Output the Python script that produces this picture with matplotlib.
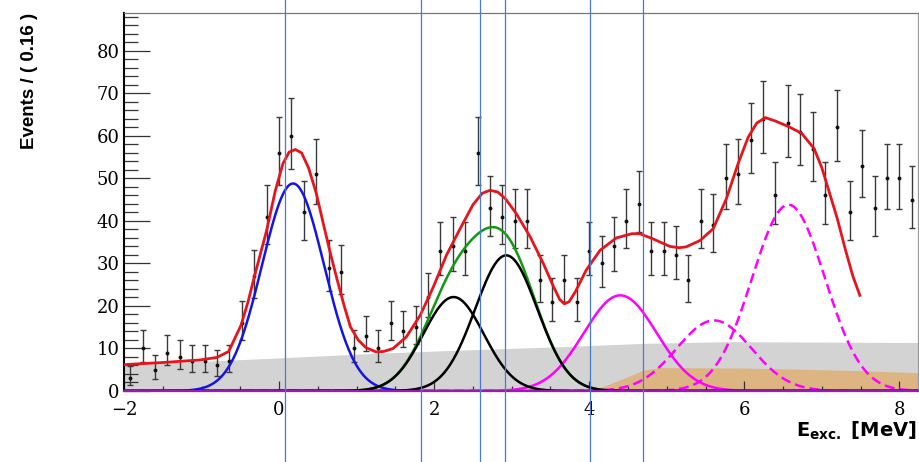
import numpy as np
import matplotlib
matplotlib.use("Agg")
import matplotlib.pyplot as plt
from matplotlib.transforms import blended_transform_factory

# --- data --------------------------------------------------------------
# histogram: bins of 0.16 MeV starting at -2 MeV
bin_start = -2.0
bin_width = 0.16
counts = [3, 10, 5, 9, 8, 7, 7, 6, 7, 16,
          27, 41, 56, 60, 42, 51, 29, 28, 10, 13,
          10, 16, 14, 15, 22, 33, 34, 33, 56, 43,
          41, 40, 40, 26, 21, 26, 21, 33, 30, 34,
          40, 44, 33, 33, 32, 26, 40, 39, 50, 51,
          59, 64, 46, 63, 61, 57, 46, 62, 42, 53,
          43, 50, 50, 45]
err_lo = [1.6, 3.1, 2.2, 2.9, 2.8, 2.6, 2.6, 2.4, 2.6, 4.0,
          5.2, 6.4, 7.5, 7.7, 6.5, 7.1, 5.4, 5.3, 3.1, 3.6,
          3.1, 4.0, 3.7, 3.9, 4.7, 5.7, 5.8, 5.7, 7.5, 6.5,
          6.4, 6.3, 6.3, 5.1, 4.6, 5.1, 4.6, 5.7, 5.5, 5.8,
          6.3, 6.6, 5.7, 5.7, 5.6, 5.1, 6.3, 6.2, 7.1, 7.1,
          7.7, 8.0, 6.8, 7.9, 7.8, 7.5, 6.8, 7.9, 6.5, 7.3,
          6.5, 7.1, 7.1, 6.7]
err_hi = [2.9, 4.3, 3.4, 4.1, 4.0, 3.8, 3.8, 3.6, 3.8, 5.1,
          6.2, 7.4, 8.5, 8.8, 7.5, 8.2, 6.4, 6.3, 4.3, 4.7,
          4.3, 5.1, 4.8, 5.0, 5.7, 6.8, 6.9, 6.8, 8.5, 7.6,
          7.4, 7.4, 7.4, 6.1, 5.6, 6.1, 5.6, 6.8, 6.5, 6.9,
          7.4, 7.7, 6.8, 6.8, 6.7, 6.1, 7.4, 7.3, 8.1, 8.2,
          8.7, 9.0, 7.8, 9.0, 8.9, 8.6, 7.8, 8.9, 7.5, 8.3,
          7.6, 8.1, 8.1, 7.8]

# total fit (red)
fit_x = [-2.00, -1.50, -1.02, -0.80, -0.65, -0.49, -0.40, -0.31, -0.16, -0.05,
         0.05, 0.13, 0.21, 0.29, 0.38, 0.48, 0.57, 0.66, 0.75, 0.84,
         0.92, 1.02, 1.12, 1.25, 1.35, 1.47, 1.64, 1.82, 1.99, 2.16,
         2.33, 2.50, 2.62, 2.72, 2.82, 2.92, 3.06, 3.24, 3.41, 3.54,
         3.62, 3.68, 3.74, 3.82, 3.96, 4.14, 4.35, 4.55, 4.65, 4.82,
         5.04, 5.16, 5.25, 5.43, 5.60, 5.77, 5.92, 6.05, 6.16, 6.27,
         6.40, 6.58, 6.74, 6.90, 7.00, 7.10, 7.20, 7.30, 7.40, 7.49]
fit_y = [6.2, 6.7, 7.3, 7.9, 9.3, 15.5, 21.0, 27.5, 37.8, 47.0,
         53.5, 56.2, 56.8, 56.0, 52.5, 46.5, 39.4, 32.5, 26.1, 20.0,
         15.1, 12.0, 10.2, 9.2, 9.3, 10.0, 12.7, 17.8, 24.5, 32.0,
         38.0, 43.8, 46.5, 47.2, 46.8, 45.2, 41.7, 36.2, 29.9, 24.5,
         21.5, 20.5, 21.0, 23.3, 28.4, 33.1, 36.0, 37.0, 37.0, 35.8,
         34.0, 33.7, 33.9, 35.4, 38.2, 45.3, 53.5, 59.7, 63.0, 64.3,
         63.5, 62.1, 60.6, 57.0, 52.5, 46.5, 40.5, 33.5, 27.0, 22.5]

# backgrounds (grey and orange bands)
bkg_grey_x = [-2.0, -0.7, 1.3, 2.3, 3.6, 4.7, 5.8, 8.24]
bkg_grey_y = [6.3, 7.2, 8.9, 9.6, 10.4, 11.2, 11.6, 11.4]
bkg_orange_x = [4.0, 4.2, 4.45, 4.7, 4.9, 6.0, 7.5, 8.24]
bkg_orange_y = [0.0, 1.2, 3.0, 4.9, 5.5, 5.4, 4.8, 4.3]

# gaussian peak components: mean, sigma, amplitude
blue_peak = [0.18, 0.40, 48.8]
black_peak1 = [2.25, 0.39, 22.1]
black_peak2 = [2.93, 0.40, 31.9]
magenta_peak = [4.40, 0.47, 22.5]
dashed_peak1 = [5.61, 0.48, 16.6]
dashed_peak2 = [6.57, 0.47, 43.8]

# blue guide lines
guide_lines = [0.07, 1.83, 2.59, 2.92, 4.01, 4.69]


def gauss(x, pars):
    mean, sigma, amp = pars
    return amp * np.exp(-0.5 * ((x - mean) / sigma) ** 2)


fig = plt.figure(figsize=(9.2, 4.62), dpi=100)
ax = fig.add_axes([124 / 920, 1 - 391 / 462, 794 / 920, 378 / 462])

x = np.linspace(-2.0, 8.24, 800)
centers = bin_start + bin_width * (np.arange(len(counts)) + 0.5)

# background bands
ax.fill_between(bkg_grey_x, bkg_grey_y, color="#d3d3d3", lw=0, zorder=1)
ax.fill_between(bkg_orange_x, bkg_orange_y, color="#dcb582", lw=0, zorder=1.5)

# data points
ax.errorbar(centers, counts, yerr=[err_lo, err_hi], fmt="o", ms=1.8,
            color="#111111", ecolor="#3a3a3a", elinewidth=1.0,
            capsize=2.4, capthick=1.0, zorder=3)

# peak components
lw = 1.8
ax.plot(x, gauss(x, blue_peak), color="#1414e6", lw=lw, zorder=4)
ax.plot(x, gauss(x, black_peak1) + gauss(x, black_peak2), color="#109a10", lw=lw, zorder=4)
ax.plot(x, gauss(x, black_peak1), color="black", lw=lw, zorder=4.5)
ax.plot(x, gauss(x, black_peak2), color="black", lw=lw, zorder=4.5)
ax.plot(x, gauss(x, magenta_peak), color="#ff00ff", lw=lw, zorder=4)
ax.plot(x, gauss(x, dashed_peak1), color="#ff00ff", lw=lw, ls=(0, (4, 2)), zorder=4)
ax.plot(x, gauss(x, dashed_peak2), color="#ff00ff", lw=lw, ls=(0, (4, 2)), zorder=4)

# total fit
ax.plot(fit_x, fit_y, color="#e8141c", lw=2.0, zorder=5, solid_joinstyle="round")

ax.set_xlim(-2.0, 8.24)
ax.set_ylim(0, 88.9)

ax.set_xticks([-2, 0, 2, 4, 6, 8])
ax.set_xticks(np.arange(-2, 8.5, 0.5), minor=True)
ax.set_yticks([0, 10, 20, 30, 40, 50, 60, 70, 80])
ax.set_yticks(np.arange(0, 89, 2), minor=True)

ax.tick_params(axis="y", which="major", direction="in", length=19, width=0.9,
               color="#333333", labelsize=13, pad=3, right=False)
ax.tick_params(axis="y", which="minor", direction="in", length=10, width=0.9,
               color="#333333", right=False)
ax.tick_params(axis="x", which="major", direction="in", length=7, width=0.9,
               color="#333333", labelsize=13, pad=7, top=False)
ax.tick_params(axis="x", which="minor", direction="in", length=3.5, width=0.9,
               color="#333333", top=False)
for lbl in ax.get_xticklabels() + ax.get_yticklabels():
    lbl.set_family("DejaVu Serif")

ax.spines["left"].set_color("black")
ax.spines["left"].set_linewidth(1.5)
ax.spines["top"].set_color("#777777")
ax.spines["top"].set_linewidth(0.9)
ax.spines["right"].set_color("#999999")
ax.spines["right"].set_linewidth(0.9)
ax.spines["bottom"].set_color("#9b19b5")
ax.spines["bottom"].set_linewidth(1.6)
ax.spines["bottom"].set_zorder(6)

# axis titles
fig.text(29.5 / 920, 1 - 13 / 462, "Events / ( 0.16 )", rotation=90,
         ha="center", va="top", fontsize=13.5, fontweight="bold",
         family="Liberation Sans")
fig.text(917 / 920, 1 - 437 / 462, r"E$_{\mathbf{exc.}}$ [MeV]", ha="right",
         va="baseline", fontsize=14, fontweight="bold", family="DejaVu Sans")

# vertical guide lines over the whole picture
trans = blended_transform_factory(ax.transData, fig.transFigure)
for gx in guide_lines:
    ax.plot([gx, gx], [0, 1], transform=trans, color="#4a7bd0", lw=0.9,
            clip_on=False, zorder=10)

fig.savefig("out.png", dpi=100)
